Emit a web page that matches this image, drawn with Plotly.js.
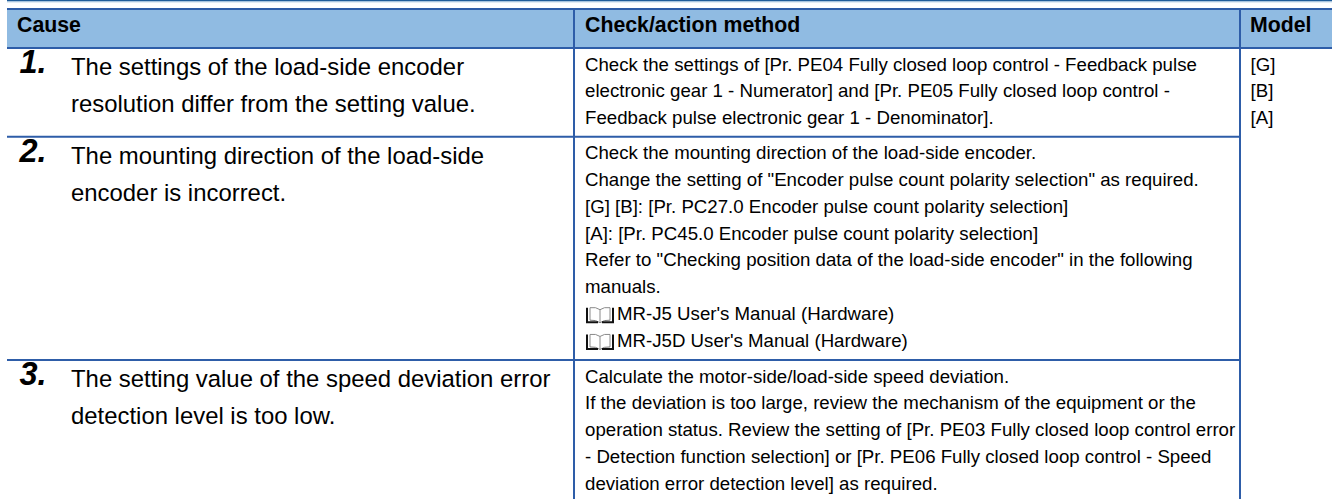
<!DOCTYPE html>
<html>
<head>
<meta charset="utf-8">
<script src="https://cdn.plot.ly/plotly-3.0.1.min.js"></script>
<style>html,body{margin:0;padding:0;background:#fff}#chart{width:1332px;height:499px}</style>
</head>
<body>
<div id="chart"></div>
<script>
// ---- table content ----
var headers = ["Cause", "Check/action method", "Model"];
var rowNumbers = ["1.", "2.", "3."];
var causes = [
  ["The settings of the load-side encoder", "resolution differ from the setting value."],
  ["The mounting direction of the load-side", "encoder is incorrect."],
  ["The setting value of the speed deviation error", "detection level is too low."]
];
var actions = [
  ["Check the settings of [Pr. PE04 Fully closed loop control - Feedback pulse",
   "electronic gear 1 - Numerator] and [Pr. PE05 Fully closed loop control -",
   "Feedback pulse electronic gear 1 - Denominator]."],
  ["Check the mounting direction of the load-side encoder.",
   "Change the setting of \"Encoder pulse count polarity selection\" as required.",
   "[G] [B]: [Pr. PC27.0 Encoder pulse count polarity selection]",
   "[A]: [Pr. PC45.0 Encoder pulse count polarity selection]",
   "Refer to \"Checking position data of the load-side encoder\" in the following",
   "manuals.",
   "@MR-J5 User's Manual (Hardware)",
   "@MR-J5D User's Manual (Hardware)"],
  ["Calculate the motor-side/load-side speed deviation.",
   "If the deviation is too large, review the mechanism of the equipment or the",
   "operation status. Review the setting of [Pr. PE03 Fully closed loop control error",
   "- Detection function selection] or [Pr. PE06 Fully closed loop control - Speed",
   "deviation error detection level] as required."]
];
var models = ["[G]", "[B]", "[A]"];

// ---- geometry of the page ----
var W = 1332, H = 499;
var colEdges = [7, 574, 1240, W];
var rowEdges = [48, 136.7, 360, H];
var headTop = 9, headMid = 27;
var BLUE = "#2E5DA8", FILL = "#90BBE2", INK = "#000000";
var FONT = "Liberation Sans, Arial, sans-serif";
var causeX = 71, numX = 19.5, actX = 585, modelX = 1250.5;
var causeFirst = 21.2, causeStep = 37, actFirst = 18, actStep = 26.75, numOff = 17.2;

function textTrace(xs, ys, ts, size, bold, italic) {
  return {type: "scatter", mode: "text", x: xs, y: ys, text: ts, textposition: "middle right",
    textfont: {family: FONT, size: size, color: INK, weight: bold ? 700 : 400, style: italic ? "italic" : "normal"},
    hoverinfo: "skip", showlegend: false, cliponaxis: false};
}

var hx = [colEdges[0] + 10, actX, modelX - 0.5], hy = headers.map(function(){return headMid;});
var nx = [], ny = [], cx = [], cy = [], ct = [], ax = [], ay = [], at = [], mx = [], my = [];
var shapes = [];

function rule(x0, y0, x1, y1, w, c) {
  shapes.push({type: "line", xref: "x", yref: "y", x0: x0, y0: y0, x1: x1, y1: y1, line: {color: c || BLUE, width: w || 2}, layer: "above"});
}
function pathShape(p, lineColor, lineWidth, fill) {
  shapes.push({type: "path", xref: "x", yref: "y", path: p, line: {color: lineColor, width: lineWidth}, fillcolor: fill || "rgba(0,0,0,0)"});
}
function book(x, yc) {
  // open-book manual icon, placed relative to its text line
  var t = yc - 7.5, b = yc + 7, m = x + 15, l = x + 2, r = x + 28;
  pathShape("M" + (l+3) + "," + t + " Q" + (m-4) + "," + (t-1) + " " + m + "," + (t+2) + " Q" + (m+4) + "," + (t-1) + " " + (r-3) + "," + t + " M" + m + "," + (t+2) + " L" + m + "," + b, "#8a8a8a", 1);
  pathShape("M" + (l+3) + "," + t + " L" + (l+3) + "," + (b-2) + " M" + (r-3) + "," + t + " L" + (r-3) + "," + (b-2), "#8a8a8a", 1);
  pathShape("M" + (l+3) + "," + (b-2) + " Q" + (m-4) + "," + (b-2.5) + " " + m + "," + (b+0.5) + " Q" + (m+4) + "," + (b-2.5) + " " + (r-3) + "," + (b-2), "#7a7a7a", 1);
  pathShape("M" + l + "," + t + " L" + l + "," + b + " L" + (m-2) + "," + b, "#111111", 2);
  pathShape("M" + (m+2) + "," + b + " L" + r + "," + b + " L" + r + "," + t, "#111111", 2);
}

// header band and rules
shapes.push({type: "rect", xref: "x", yref: "y", x0: colEdges[0], x1: W, y0: headTop, y1: rowEdges[0], fillcolor: FILL, line: {width: 0}, layer: "below"});
rule(colEdges[0], 0.6, W, 0.6, 1.2, "#1F5C99");
rule(colEdges[0], 1.8, W, 1.8, 1, "#9DBEDC");
rule(colEdges[0], headTop, W, headTop, 2);
rule(colEdges[0], rowEdges[0], W, rowEdges[0], 2);
rule(colEdges[0], rowEdges[1], colEdges[2], rowEdges[1], 2);
rule(colEdges[0], rowEdges[2], colEdges[2], rowEdges[2], 2);
rule(colEdges[1], headTop, colEdges[1], H, 2);
rule(colEdges[2], headTop, colEdges[2], H, 2);

rowNumbers.forEach(function(n, i) {
  var top = rowEdges[i];
  nx.push(numX); ny.push(top + numOff);
  causes[i].forEach(function(t, j) { cx.push(causeX); cy.push(top + causeFirst + j * causeStep); ct.push(t); });
  actions[i].forEach(function(t, j) {
    var y = top + actFirst + j * actStep;
    if (t.charAt(0) === "@") { book(actX, y); ax.push(actX + 32); t = t.slice(1); } else { ax.push(actX); }
    ay.push(y); at.push(t);
  });
});
models.forEach(function(t, j) { mx.push(modelX); my.push(rowEdges[0] + actFirst + j * actStep); });

var data = [
  textTrace(hx, hy, headers, 21.3, true, false),
  textTrace(nx, ny, rowNumbers, 32.5, true, true),
  textTrace(cx, cy, ct, 23.9, false, false),
  textTrace(ax, ay, at, 18.67, false, false),
  textTrace(mx, my, models, 18.67, false, false)
];

var layout = {
  width: W, height: H, margin: {l: 0, r: 0, t: 0, b: 0},
  paper_bgcolor: "#ffffff", plot_bgcolor: "#ffffff", showlegend: false,
  xaxis: {range: [0, W], visible: false, fixedrange: true},
  yaxis: {range: [H, 0], visible: false, fixedrange: true},
  shapes: shapes
};
Plotly.newPlot("chart", data, layout, {displayModeBar: false, staticPlot: true});
</script>
</body>
</html>
